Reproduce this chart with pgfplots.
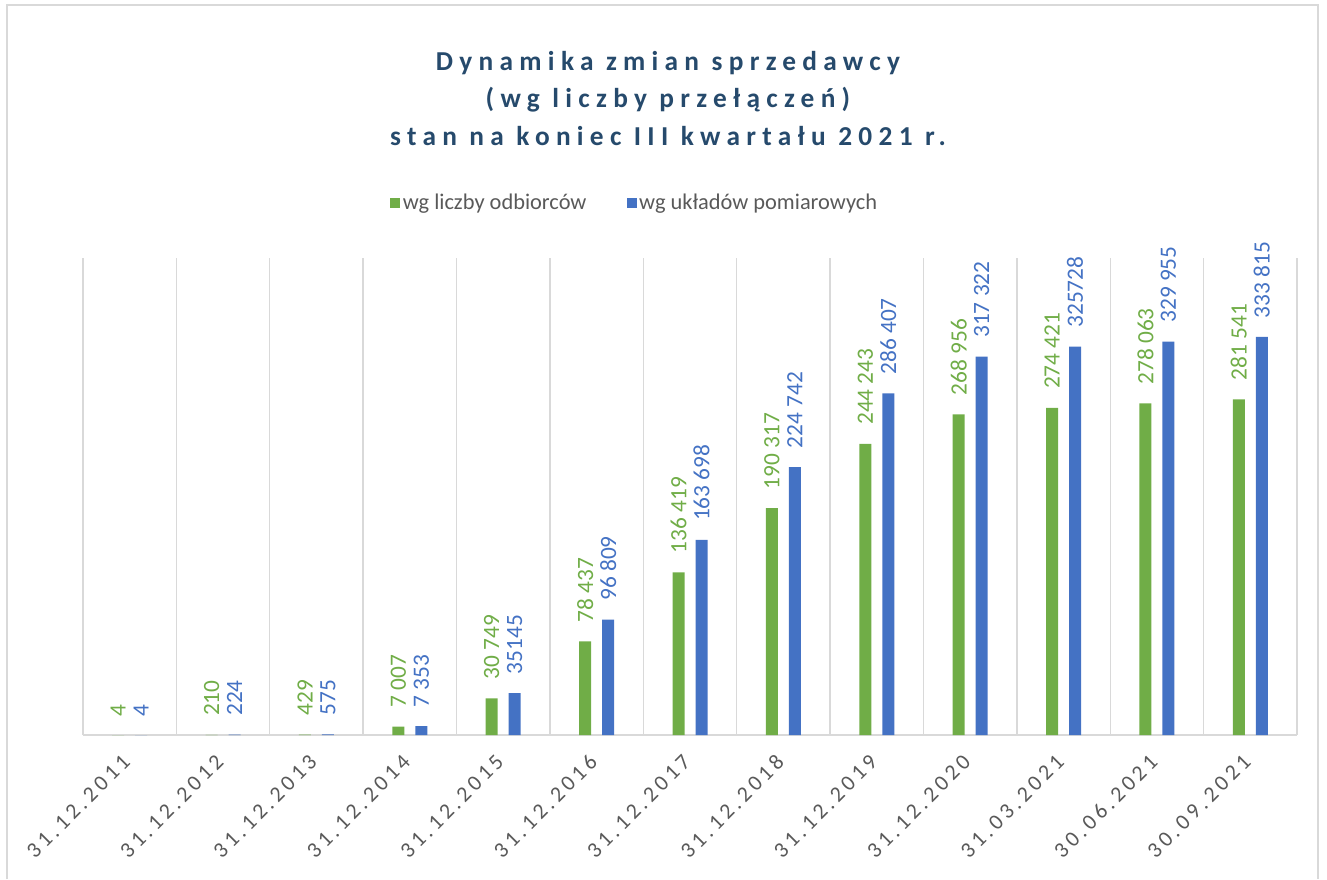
\documentclass[border=0pt]{standalone}
\usepackage{fontspec}
\setmainfont{Carlito}
\newfontfamily\titlefont[LetterSpace=23]{Carlito}
\newfontfamily\tickfont[LetterSpace=18]{Carlito}
\usepackage{pgfplots}
\pgfplotsset{compat=1.18}
\definecolor{cgreen}{HTML}{70AD47}
\definecolor{cblue}{HTML}{4472C4}
\definecolor{ctitle}{RGB}{38,74,108}
\definecolor{ctext}{HTML}{595959}
\definecolor{cgrid}{HTML}{D9D9D9}
\begin{document}
\begin{tikzpicture}
\path[use as bounding box] (0,0) rectangle (995.25pt,-659.25pt);
\draw[cgrid, line width=1.5pt] (5.25pt,-659.25pt) -- (5.25pt,-3.75pt) -- (988.5pt,-3.75pt) -- (988.5pt,-659.25pt);
\node[anchor=base, font=\titlefont\bfseries\fontsize{20.5}{24}\selectfont, text=ctitle] at (501pt,-52.5pt) {Dynamika zmian sprzedawcy};
\node[anchor=base, font=\titlefont\bfseries\fontsize{20.5}{24}\selectfont, text=ctitle] at (501pt,-80.6pt) {(wg liczby przełączeń)};
\node[anchor=base, font=\titlefont\bfseries\fontsize{20.5}{24}\selectfont, text=ctitle] at (501pt,-108.75pt) {stan na koniec III kwartału 2021 r.};
\begin{axis}[
  at={(62.25pt,-551.25pt)}, anchor=south west,
  scale only axis, width=910.5pt, height=357.75pt,
  ybar=8.25pt, bar width=9pt,
  xmin=-0.5, xmax=12.5, ymin=0, ymax=400000,
  axis y line=none, axis x line*=bottom,
  x axis line style={cgrid, line width=1pt, -},
  xtick={0,...,12},
  xticklabels={31.12.2011,31.12.2012,31.12.2013,31.12.2014,31.12.2015,31.12.2016,31.12.2017,31.12.2018,31.12.2019,31.12.2020,31.03.2021,30.06.2021,30.09.2021},
  major tick length=0pt, minor tick length=0pt,
  minor xtick={-0.5,0.5,...,12.5},
  xminorgrids, minor grid style={cgrid, line width=1pt},
  xticklabel shift=15pt,
  xticklabel style={font=\tickfont\fontsize{16.5}{19}\selectfont, text=ctext, rotate=45, anchor=east},
  nodes near coords, point meta=explicit symbolic,
  every node near coord/.append style={rotate=90, anchor=west, font=\fontsize{17.5}{20}\selectfont, inner xsep=14pt, inner ysep=0pt},
  legend columns=2,
  legend style={at={(0.4547,1.115)}, anchor=center, draw=none, fill=none,
    font=\fontsize{16.8}{19}\selectfont, text=ctext,
    /tikz/every even column/.append style={column sep=28pt}},
  legend image code/.code={\fill[#1] (0pt,-3.75pt) rectangle (7.5pt,3.75pt);},
]
\addplot[fill=cgreen, draw=none, every node near coord/.append style={text=cgreen}] coordinates {
 (0,4) [4]
 (1,210) [210]
 (2,429) [429]
 (3,7007) [7 007]
 (4,30749) [30 749]
 (5,78437) [78 437]
 (6,136419) [136 419]
 (7,190317) [190 317]
 (8,244243) [244 243]
 (9,268956) [268 956]
 (10,274421) [274 421]
 (11,278063) [278 063]
 (12,281541) [281 541]
};
\addplot[fill=cblue, draw=none, every node near coord/.append style={text=cblue}] coordinates {
 (0,4) [4]
 (1,224) [224]
 (2,575) [575]
 (3,7353) [7 353]
 (4,35145) [35145]
 (5,96809) [96 809]
 (6,163698) [163 698]
 (7,224742) [224 742]
 (8,286407) [286 407]
 (9,317322) [317 322]
 (10,325728) [325728]
 (11,329955) [329 955]
 (12,333815) [333 815]
};
\legend{wg liczby odbiorców, wg układów pomiarowych}
\end{axis}
\end{tikzpicture}
\end{document}
